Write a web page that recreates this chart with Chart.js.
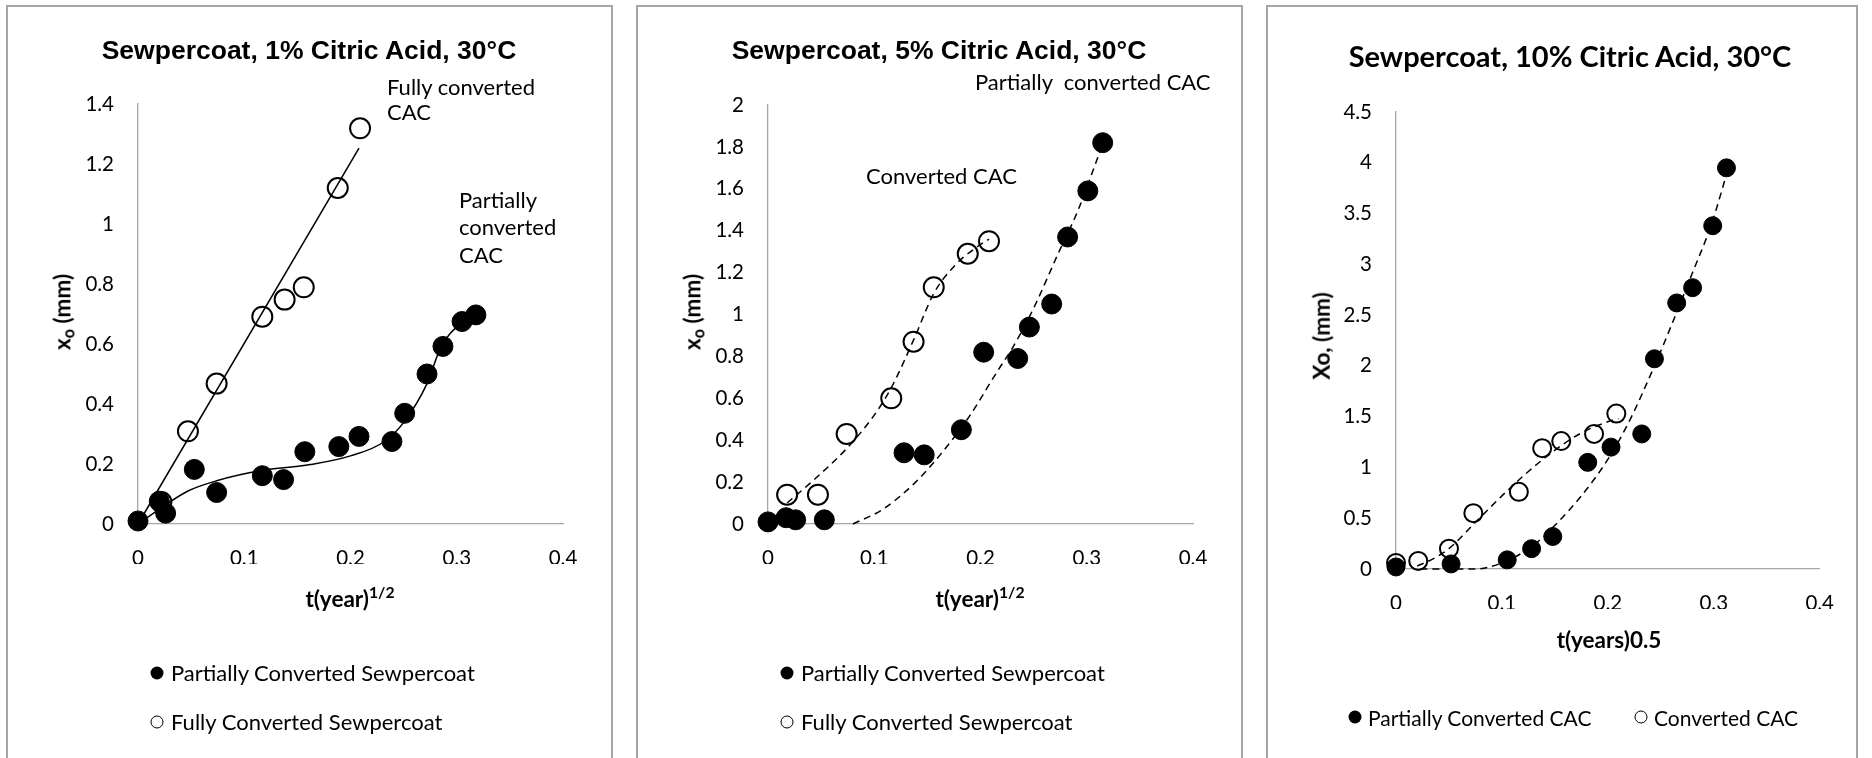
<!DOCTYPE html>
<html>
<head>
<meta charset="utf-8">
<script src="https://cdn.jsdelivr.net/npm/chart.js@4.4.1/dist/chart.umd.min.js"></script>
<style>
  html, body { margin: 0; padding: 0; background: #fff; }
  body { width: 1872px; height: 758px; position: relative; overflow: hidden; font-family: Lato, sans-serif; color: #000; }
  .panel { position: absolute; top: 5px; height: 800px; border: 2px solid #a6a6a6; box-sizing: border-box; }
  .plot { position: absolute; top: 0; height: 758px; }
  .txt { position: absolute; white-space: pre; line-height: 1; transform: translateY(-50%); }
  .ctr { transform: translate(-50%, -50%); }
  .title { font-family: 'Liberation Sans', Arial, sans-serif; font-weight: bold; font-size: 26.5px; }
  .title3 { font-family: Lato, sans-serif; font-weight: bold; font-size: 29px; }
  .note { font-size: 22px; }
  .leg3 { font-size: 21px; }
  .axt { font-weight: bold; font-size: 22.5px; }
  .axt sup { font-size: 0.7em; vertical-align: 0.55em; }
  .axt sub { font-size: 0.72em; vertical-align: -0.25em; }
  .yt { transform: translate(-50%, -50%) rotate(-90deg); }
  .mk { position: absolute; width: 13px; height: 13px; border-radius: 50%; box-sizing: border-box; transform: translate(-50%, -50%); }
  .mk.fill { background: #000; }
  .mk.open { border: 1.7px solid #000; background: #fff; }
</style>
</head>
<body>

<div class="panel" style="left:6px;width:607px"></div>
<div class="panel" style="left:636px;width:607px"></div>
<div class="panel" style="left:1266px;width:592px"></div>

<div class="plot" style="left:8px;width:603px"><canvas id="c1"></canvas></div>
<div class="plot" style="left:638px;width:603px"><canvas id="c2"></canvas></div>
<div class="plot" style="left:1268px;width:588px"><canvas id="c3"></canvas></div>

<!-- panel 1 texts -->
<div class="txt title ctr" style="left:309px;top:50px">Sewpercoat, 1% Citric Acid, 30°C</div>
<div class="txt note" style="left:387px;top:87px">Fully converted</div>
<div class="txt note" style="left:387px;top:112px">CAC</div>
<div class="txt note" style="left:459px;top:200px">Partially</div>
<div class="txt note" style="left:459px;top:227px">converted</div>
<div class="txt note" style="left:459px;top:255px">CAC</div>
<div class="txt axt ctr" style="left:350px;top:597px">t(year)<sup>1/2</sup></div>
<div class="txt axt yt" style="left:64px;top:312px">x<sub>o</sub> (mm)</div>
<div class="mk fill" style="left:157px;top:673px"></div>
<div class="txt note" style="left:171px;top:673px">Partially Converted Sewpercoat</div>
<div class="mk open" style="left:157px;top:722px"></div>
<div class="txt note" style="left:171px;top:722px">Fully Converted Sewpercoat</div>

<!-- panel 2 texts -->
<div class="txt title ctr" style="left:939px;top:50px">Sewpercoat, 5% Citric Acid, 30°C</div>
<div class="txt note" style="left:975px;top:82px">Partially  converted CAC</div>
<div class="txt note" style="left:866px;top:176px">Converted CAC</div>
<div class="txt axt ctr" style="left:980px;top:597px">t(year)<sup>1/2</sup></div>
<div class="txt axt yt" style="left:694px;top:312px">x<sub>o</sub> (mm)</div>
<div class="mk fill" style="left:787px;top:673px"></div>
<div class="txt note" style="left:801px;top:673px">Partially Converted Sewpercoat</div>
<div class="mk open" style="left:787px;top:722px"></div>
<div class="txt note" style="left:801px;top:722px">Fully Converted Sewpercoat</div>

<!-- panel 3 texts -->
<div class="txt title3 ctr" style="left:1570px;top:55px">Sewpercoat, 10% Citric Acid, 30°C</div>
<div class="txt axt ctr" style="left:1609px;top:640px">t(years)0.5</div>
<div class="txt axt yt" style="left:1322px;top:336px">Xo, (mm)</div>
<div class="mk fill" style="left:1355px;top:717px"></div>
<div class="txt leg3" style="left:1368px;top:717px">Partially Converted CAC</div>
<div class="mk open" style="left:1641px;top:717px"></div>
<div class="txt leg3" style="left:1654px;top:717px">Converted CAC</div>

<script>
// ---- data ----
const xTicks = [0, 0.1, 0.2, 0.3, 0.4];

// 1% citric acid
const p1PartialX = [0, 0.02, 0.026, 0.053, 0.074, 0.117, 0.137, 0.157, 0.189, 0.208, 0.239, 0.251, 0.272, 0.287, 0.305, 0.318];
const p1PartialY = [0.01, 0.076, 0.036, 0.182, 0.105, 0.161, 0.148, 0.241, 0.258, 0.292, 0.275, 0.369, 0.5, 0.592, 0.675, 0.697];
const p1FullX = [0.022, 0.047, 0.074, 0.117, 0.138, 0.156, 0.188, 0.209];
const p1FullY = [0.073, 0.309, 0.468, 0.691, 0.748, 0.789, 1.12, 1.319];
const p1FullTrendX = [0, 0.208];
const p1FullTrendY = [0, 1.253];
const p1PartialTrendX = [0, 0.024, 0.047, 0.074, 0.116, 0.162, 0.2, 0.232, 0.251, 0.272, 0.285, 0.305, 0.318];
const p1PartialTrendY = [0, 0.059, 0.11, 0.144, 0.178, 0.198, 0.227, 0.275, 0.343, 0.468, 0.589, 0.672, 0.7];
const p1YTicks = [0, 0.2, 0.4, 0.6, 0.8, 1, 1.2, 1.4];

// 5% citric acid
const p2PartialX = [0, 0.017, 0.026, 0.053, 0.128, 0.147, 0.182, 0.203, 0.235, 0.246, 0.267, 0.282, 0.301, 0.315];
const p2PartialY = [0.01, 0.03, 0.02, 0.02, 0.34, 0.33, 0.45, 0.82, 0.79, 0.94, 1.05, 1.37, 1.59, 1.82];
const p2FullX = [0.018, 0.047, 0.074, 0.116, 0.137, 0.156, 0.188, 0.208];
const p2FullY = [0.14, 0.14, 0.43, 0.6, 0.87, 1.13, 1.29, 1.35];
const p2FullTrendX = [0.018, 0.043, 0.074, 0.1, 0.116, 0.138, 0.156, 0.177, 0.196, 0.208];
const p2FullTrendY = [0.1, 0.21, 0.36, 0.52, 0.65, 0.89, 1.1, 1.24, 1.32, 1.36];
const p2PartialTrendX = [0.08, 0.108, 0.139, 0.162, 0.189, 0.216, 0.23, 0.25, 0.273, 0.292, 0.314];
const p2PartialTrendY = [0, 0.07, 0.2, 0.33, 0.51, 0.73, 0.84, 1.03, 1.29, 1.5, 1.8];
const p2YTicks = [0, 0.2, 0.4, 0.6, 0.8, 1, 1.2, 1.4, 1.6, 1.8, 2];

// 10% citric acid
const p3PartialX = [0, 0.052, 0.105, 0.128, 0.148, 0.181, 0.203, 0.232, 0.244, 0.265, 0.28, 0.299, 0.312];
const p3PartialY = [0.02, 0.05, 0.09, 0.2, 0.32, 1.05, 1.2, 1.33, 2.07, 2.62, 2.77, 3.38, 3.95];
const p3FullX = [0, 0.021, 0.05, 0.073, 0.116, 0.138, 0.156, 0.187, 0.208];
const p3FullY = [0.06, 0.08, 0.2, 0.55, 0.76, 1.19, 1.26, 1.33, 1.53];
const p3FullTrendX = [0.02, 0.035, 0.05, 0.075, 0.1, 0.125, 0.15, 0.175, 0.2, 0.21];
const p3FullTrendY = [0.03, 0.1, 0.2, 0.46, 0.72, 0.96, 1.17, 1.34, 1.45, 1.48];
const p3PartialTrendX = [0.023, 0.075, 0.1, 0.128, 0.15, 0.175, 0.2, 0.22, 0.244, 0.262, 0.28, 0.298, 0.313];
const p3PartialTrendY = [0, 0, 0.06, 0.22, 0.43, 0.72, 1.08, 1.45, 2.0, 2.45, 2.92, 3.4, 3.92];
const p3YTicks = [0, 0.5, 1, 1.5, 2, 2.5, 3, 3.5, 4, 4.5];

// ---- drawing ----
const pts = (xs, ys) => xs.map((x, i) => ({ x, y: ys[i] }));
const AXIS = '#a6a6a6';
const TICK_FONT = { family: 'Lato', size: 20.5 };
const H = 758, XH = 40;

function markers(xs, ys, open, r) {
  return { data: pts(xs, ys), showLine: false, clip: false, pointRadius: r, pointHoverRadius: r,
    pointBackgroundColor: open ? 'rgba(0,0,0,0)' : '#000', pointBorderColor: '#000',
    pointBorderWidth: open ? 2 : 1 };
}
function trend(xs, ys, dashed) {
  return { data: pts(xs, ys), showLine: true, clip: false, pointRadius: 0, borderColor: '#000', borderWidth: 1.5,
    borderDash: dashed ? [7, 5] : [], cubicInterpolationMode: 'monotone', fill: false };
}

// box: canvas left/width on page; area: target plot rectangle on page
function makePanel(id, box, area, yMax, yTicks, datasets) {
  new Chart(document.getElementById(id), {
    type: 'scatter',
    data: { datasets },
    options: {
      responsive: true, maintainAspectRatio: false, animation: false, events: [],
      layout: { padding: { left: 0, top: area.top, right: box.x + box.w - area.right, bottom: H - area.bottom - XH } },
      plugins: { legend: { display: false }, tooltip: { enabled: false } },
      scales: {
        x: {
          type: 'linear', min: 0, max: 0.4,
          afterBuildTicks: s => { s.ticks = xTicks.map(v => ({ value: v })); },
          afterFit: s => { s.height = XH; },
          grid: { display: false, drawTicks: false },
          border: { display: true, color: AXIS, width: 1.3 },
          ticks: { color: '#000', font: TICK_FONT, padding: 22, maxRotation: 0, callback: v => String(+v.toFixed(2)) }
        },
        y: {
          type: 'linear', min: 0, max: yMax,
          afterBuildTicks: s => { s.ticks = yTicks.map(v => ({ value: v })); },
          afterFit: s => { s.width = area.left - box.x; },
          grid: { display: false, drawTicks: false },
          border: { display: true, color: AXIS, width: 1.3 },
          ticks: { color: '#000', font: TICK_FONT, padding: 24, callback: v => String(+v.toFixed(2)) }
        }
      }
    }
  });
}

makePanel('c1', { x: 8, w: 603 }, { left: 138, right: 563, top: 104, bottom: 524 }, 1.4, p1YTicks, [
  markers(p1FullX, p1FullY, true, 10),
  markers(p1PartialX, p1PartialY, false, 10),
  trend(p1FullTrendX, p1FullTrendY, false),
  trend(p1PartialTrendX, p1PartialTrendY, false)
]);

makePanel('c2', { x: 638, w: 603 }, { left: 768, right: 1193, top: 105, bottom: 524 }, 2, p2YTicks, [
  markers(p2FullX, p2FullY, true, 10),
  markers(p2PartialX, p2PartialY, false, 10),
  trend(p2FullTrendX, p2FullTrendY, true),
  trend(p2PartialTrendX, p2PartialTrendY, true)
]);

makePanel('c3', { x: 1268, w: 588 }, { left: 1396, right: 1823, top: 112, bottom: 569 }, 4.5, p3YTicks, [
  markers(p3FullX, p3FullY, true, 9),
  markers(p3PartialX, p3PartialY, false, 9),
  trend(p3FullTrendX, p3FullTrendY, true),
  trend(p3PartialTrendX, p3PartialTrendY, true)
]);
</script>
</body>
</html>
